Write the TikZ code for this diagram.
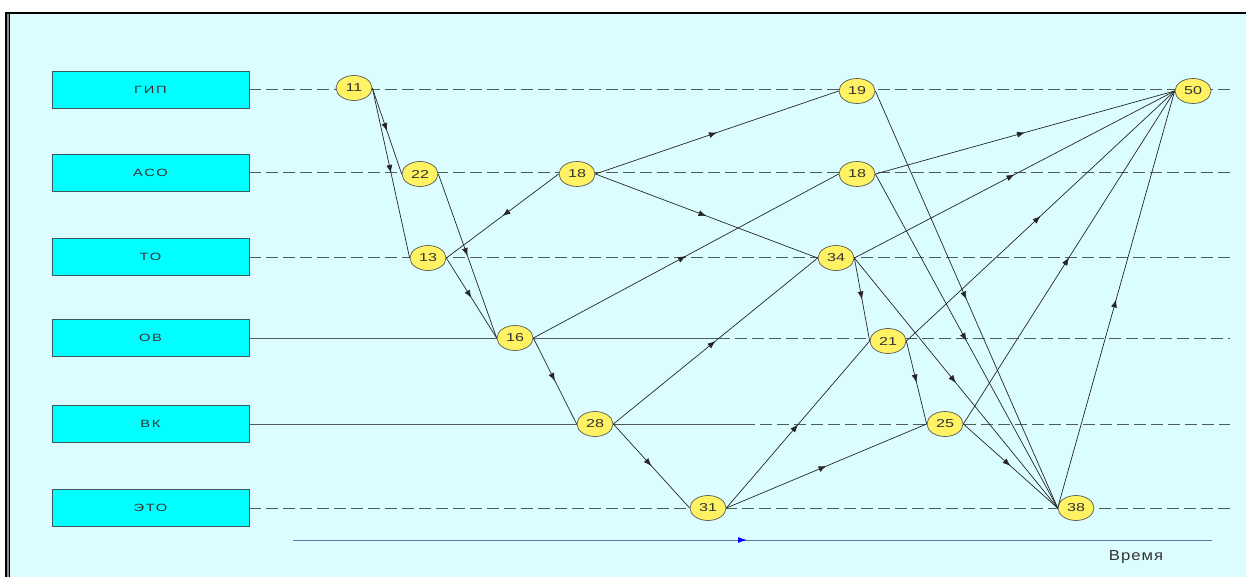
\documentclass[tikz,border=0pt]{standalone}
\usepackage{fontspec}
\usepackage{graphicx}
\setmainfont{Liberation Sans}
\newfontfamily\deptfont[LetterSpace=12]{Liberation Sans}
\newfontfamily\timefont[LetterSpace=6]{Liberation Sans}
\newcommand{\wide}[1]{\scalebox{1.4}[1]{#1}}
\usepackage{xcolor}
\definecolor{bgcyan}{HTML}{DCFDFF}
\definecolor{boxcyan}{HTML}{00FFFF}
\definecolor{boxline}{HTML}{3A5A5A}
\definecolor{eventyellow}{HTML}{FFF363}
\definecolor{rowgray}{HTML}{4E5C5C}
\definecolor{timeblue}{HTML}{5A76A8}
\usetikzlibrary{
  arrows.meta,
  shapes.geometric,
  decorations.markings
}

\begin{document}
\begin{tikzpicture}[
  x=1pt, y=-1pt,
  every node/.style={
    text=black!80,
    inner sep=0pt
  },
  dept/.style={
    draw=boxline,
    fill=boxcyan,
    line width=0.9pt,
    minimum width=197pt,
    minimum height=37pt,
    font=\deptfont\fontsize{10.5}{12}\selectfont
  },
  event/.style={
    ellipse,
    draw=black!65,
    fill=eventyellow,
    line width=0.7pt,
    minimum width=36pt,
    minimum height=25pt,
    font=\fontsize{11.5}{13}\selectfont
  },
  row/.style={
    rowgray,
    line width=1pt,
    dash pattern=on 12pt off 5pt
  },
  rowsolid/.style={
    rowgray,
    line width=1pt
  },
  arr/.style={
    black!85,
    line width=0.7pt,
    postaction={decorate},
    decoration={markings,
      mark=at position 0.5 with {\arrow{Latex[length=8pt,width=6pt]}}}
  },
  timeaxis/.style={
    timeblue,
    line width=1pt,
    postaction={decorate},
    decoration={markings,
      mark=at position 0.494 with {\arrow[blue]{Latex[length=9pt,width=6pt]}}}
  }
]

% Frame and background
\useasboundingbox (0,0) rectangle (1246,577);
\fill[bgcyan] (10,13) rectangle (1246,577);
\fill[black!45] (5,13) rectangle (10,577);
\draw[black, line width=1.5pt] (5.75,12) -- (5.75,577);
\draw[black, line width=1pt] (9.5,13) -- (9.5,577);
\draw[black, line width=2pt] (5,13) -- (1246,13);

% Departments
\node[dept] (gip) at (150.5,90)  {\wide{ГИП}};
\node[dept] (aso) at (150.5,173) {\wide{АСО}};
\node[dept] (to)  at (150.5,257) {\wide{ТО}};
\node[dept] (ov)  at (150.5,338) {\wide{ОВ}};
\node[dept] (vk)  at (150.5,424) {\wide{ВК}};
\node[dept] (eto) at (150.5,508) {\wide{ЭТО}};

% Row ends
\coordinate (gipend) at (1235,90);
\coordinate (asoend) at (1230,173);
\coordinate (toend)  at (1230,257);
\coordinate (ovcut)  at (718,338);
\coordinate (ovend)  at (1230,338);
\coordinate (vkcut)  at (743,424);
\coordinate (vkend)  at (1230,424);
\coordinate (etoend) at (1233,508);

% Rows
\draw[row] (gip.east) -- (gipend);
\draw[row] (aso.east) -- (asoend);
\draw[row] (to.east)  -- (toend);
\draw[rowsolid] (ov.east) -- (ovcut);
\draw[row] (ovcut) -- (ovend);
\draw[rowsolid] (vk.east) -- (vkcut);
\draw[row] (vkcut) -- (vkend);
\draw[row] (eto.east) -- (etoend);

% Time axis
\coordinate (tstart) at (293,540);
\coordinate (tend)   at (1212,540);
\draw[timeaxis] (tstart) -- (tend);
\node[font=\timefont\fontsize{14.5}{16}\selectfont] (time) at (1136,557)
  {\scalebox{1.15}[1]{Время}};

% Events
\node[event] (e11)  at (354,88)  {\wide{11}};
\node[event] (e22)  at (420,174) {\wide{22}};
\node[event] (e13)  at (428,258) {\wide{13}};
\node[event] (e16)  at (515,338) {\wide{16}};
\node[event] (e18a) at (577,174) {\wide{18}};
\node[event] (e28)  at (595,424) {\wide{28}};
\node[event] (e31)  at (708,508) {\wide{31}};
\node[event] (e19)  at (857,91)  {\wide{19}};
\node[event] (e18b) at (857,174) {\wide{18}};
\node[event] (e34)  at (836,258) {\wide{34}};
\node[event] (e21)  at (888,341) {\wide{21}};
\node[event] (e25)  at (945,424) {\wide{25}};
\node[event] (e38)  at (1076,508) {\wide{38}};
\node[event] (e50)  at (1193,91) {\wide{50}};

% Works
\draw[arr] (e11.east)  -- (e22.west);
\draw[arr] (e11.east)  -- (e13.west);
\draw[arr] (e22.east)  -- (e16.west);
\draw[arr] (e13.east)  -- (e16.west);
\draw[arr] (e18a.west) -- (e13.east);
\draw[arr] (e18a.east) -- (e19.west);
\draw[arr] (e18a.east) -- (e34.west);
\draw[arr] (e16.east)  -- (e18b.west);
\draw[arr] (e16.east)  -- (e28.west);
\draw[arr] (e28.east)  -- (e34.west);
\draw[arr] (e28.east)  -- (e31.west);
\draw[arr] (e31.east)  -- (e21.west);
\draw[arr] (e31.east)  -- (e25.west);
\draw[arr] (e34.east)  -- (e21.west);
\draw[arr] (e34.east)  -- (e38.west);
\draw[arr] (e34.east)  -- (e50.west);
\draw[arr] (e19.east)  -- (e38.west);
\draw[arr] (e18b.east) -- (e38.west);
\draw[arr] (e18b.east) -- (e50.west);
\draw[arr] (e21.east)  -- (e25.west);
\draw[arr] (e21.east)  -- (e50.west);
\draw[arr] (e25.east)  -- (e38.west);
\draw[arr] (e25.east)  -- (e50.west);
\draw[arr] (e38.west)  -- (e50.west);

\end{tikzpicture}
\end{document}
